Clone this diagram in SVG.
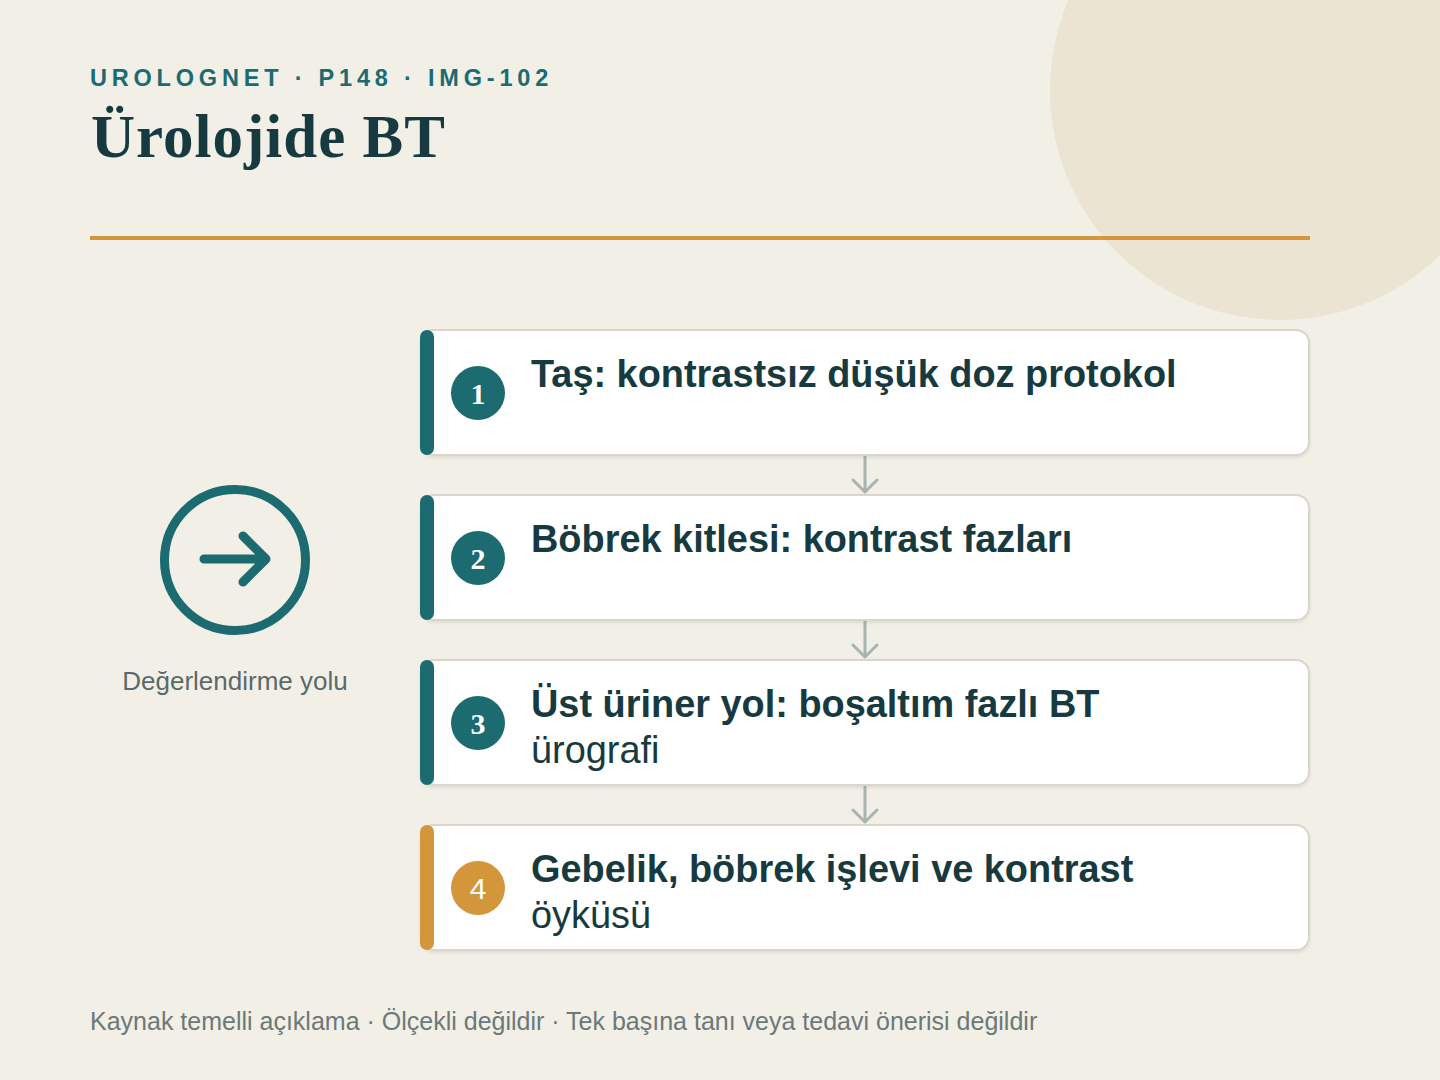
<svg xmlns="http://www.w3.org/2000/svg" width="1440" height="1080" viewBox="0 0 1440 1080">
<defs>
<style>
.kick{font-family:"Liberation Sans",Arial,sans-serif;font-weight:700;font-size:23.5px;letter-spacing:4.8px;fill:#1B6B70}
.title{font-family:"Liberation Serif","DejaVu Serif",serif;font-weight:700;font-size:61px;letter-spacing:1px;fill:#173A40}
.card{fill:#FFFFFF;stroke:#DAD6CB;stroke-width:2}
.bold{font-family:"Liberation Sans",Arial,sans-serif;font-weight:700;font-size:37.9px;fill:#173A40}
.reg{font-family:"Liberation Sans",Arial,sans-serif;font-size:37.9px;fill:#173A40}
.num{font-family:"Liberation Serif","DejaVu Serif",serif;font-weight:700;font-size:30px;fill:#FFFFFF;text-anchor:middle}
.conn{stroke:#A8B4AF;stroke-width:3;fill:none;stroke-linecap:round;stroke-linejoin:round}
.foot{font-family:"Liberation Sans",Arial,sans-serif;font-size:25px;fill:#6B7979}
.lbl{font-family:"Liberation Sans",Arial,sans-serif;font-size:26px;fill:#5A6A6A;text-anchor:middle}
</style>
<filter id="sh" x="-5%" y="-10%" width="110%" height="130%">
<feDropShadow dx="0" dy="2" stdDeviation="1.5" flood-color="#000" flood-opacity="0.08"/>
</filter>
</defs>
<rect width="1440" height="1080" fill="#F2EFE7"/>
<circle cx="1280" cy="90" r="230" fill="#ECE4D3"/>
<g id="header">
<text class="kick" x="90" y="86">UROLOGNET · P148 · IMG-102</text>
<text class="title" x="91" y="157">Ürolojide BT</text>
<rect x="90" y="236" width="1220" height="4" fill="#D4963A"/>
</g>
<g id="start">
<circle cx="235" cy="560" r="70.5" fill="none" stroke="#1B6B70" stroke-width="9"/>
<path d="M204 559 H266 M243 536 L266 559 L243 582" fill="none" stroke="#1B6B70" stroke-width="9" stroke-linecap="round" stroke-linejoin="round"/>
<text class="lbl" x="235" y="690">Değerlendirme yolu</text>
</g>
<g id="connectors">
<path class="conn" d="M865 456 V492 M853 480 L865 492 L877 480"/>
<path class="conn" d="M865 621 V657 M853 645 L865 657 L877 645"/>
<path class="conn" d="M865 786 V822 M853 810 L865 822 L877 810"/>
</g>
<g id="step1">
<rect class="card" x="421" y="330" width="888" height="125" rx="13" filter="url(#sh)"/>
<rect x="420" y="330" width="14" height="125" rx="7" fill="#1B6B70"/>
<circle cx="478" cy="393" r="27" fill="#1B6B70"/>
<text class="num" x="478" y="404">1</text>
<text class="bold" x="531" y="387">Taş: kontrastsız düşük doz protokol</text>
</g>
<g id="step2">
<rect class="card" x="421" y="495" width="888" height="125" rx="13" filter="url(#sh)"/>
<rect x="420" y="495" width="14" height="125" rx="7" fill="#1B6B70"/>
<circle cx="478" cy="558" r="27" fill="#1B6B70"/>
<text class="num" x="478" y="569">2</text>
<text class="bold" x="531" y="552">Böbrek kitlesi: kontrast fazları</text>
</g>
<g id="step3">
<rect class="card" x="421" y="660" width="888" height="125" rx="13" filter="url(#sh)"/>
<rect x="420" y="660" width="14" height="125" rx="7" fill="#1B6B70"/>
<circle cx="478" cy="723" r="27" fill="#1B6B70"/>
<text class="num" x="478" y="734">3</text>
<text class="bold" x="531" y="717">Üst üriner yol: boşaltım fazlı BT</text>
<text class="reg" x="531" y="763">ürografi</text>
</g>
<g id="step4">
<rect class="card" x="421" y="825" width="888" height="125" rx="13" filter="url(#sh)"/>
<rect x="420" y="825" width="14" height="125" rx="7" fill="#D4963A"/>
<circle cx="478" cy="888" r="27" fill="#D4963A"/>
<text class="num" x="478" y="899" style="font-family:'Liberation Sans',Arial,sans-serif;font-weight:400">4</text>
<text class="bold" x="531" y="882">Gebelik, böbrek işlevi ve kontrast</text>
<text class="reg" x="531" y="928">öyküsü</text>
</g>
<text class="foot" x="90" y="1030">Kaynak temelli açıklama · Ölçekli değildir · Tek başına tanı veya tedavi önerisi değildir</text>
</svg>
